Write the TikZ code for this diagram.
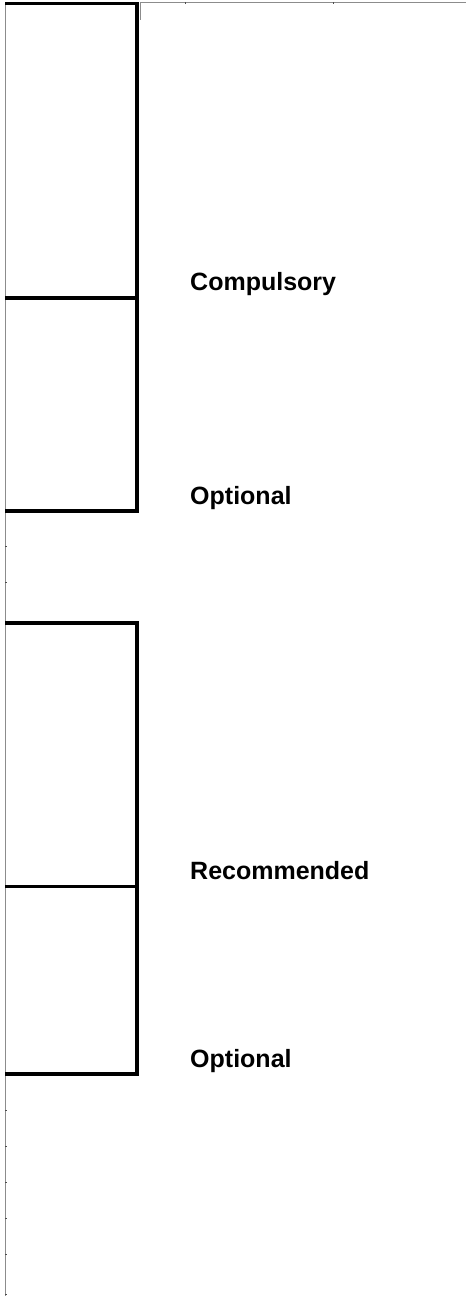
\documentclass[tikz,border=0pt]{standalone}
\usepackage{fontspec}
\setmainfont{Liberation Sans}
\begin{document}
\begin{tikzpicture}[x=1pt,y=-1pt,
  axisline/.style={draw=gray!90, line width=1pt},
  tickmark/.style={draw=black!70, line width=1pt},
  boxline/.style={draw=black, line width=3.5pt, line cap=rect},
  label/.style={anchor=base west, font=\bfseries\fontsize{25}{30}\selectfont, inner sep=0pt}]
\useasboundingbox (0,0) rectangle (466,1296);
% axes
\draw[axisline] (5,3) -- (5,1296);
\draw[axisline] (140,2.5) -- (466,2.5);
\draw[axisline] (140,2.5) -- (140,20);
\foreach \x in {185,333} \draw[tickmark] (\x,2) -- (\x,4);
\foreach \y in {546,582,1110,1146,1182,1218,1254,1294} \draw[tickmark] (5,\y) -- (7,\y);
% group 1
\draw[boxline] (6.75,3.5) -- (137,3.5) -- (137,511);
\draw[boxline] (6.75,298) -- (137,298);
\draw[boxline] (6.75,511) -- (137,511);
% group 2
\draw[boxline] (6.75,623) -- (137,623) -- (137,1074);
\draw[boxline] (6.75,886.5) -- (137,886.5);
\draw[boxline] (6.75,1074) -- (137,1074);
% labels
\node[label] (c) at (190,290) {Compulsory};
\node[label] (o1) at (190,504) {Optional};
\node[label] (r) at (190,879) {Recommended};
\node[label] (o2) at (190,1067) {Optional};
\end{tikzpicture}
\end{document}
